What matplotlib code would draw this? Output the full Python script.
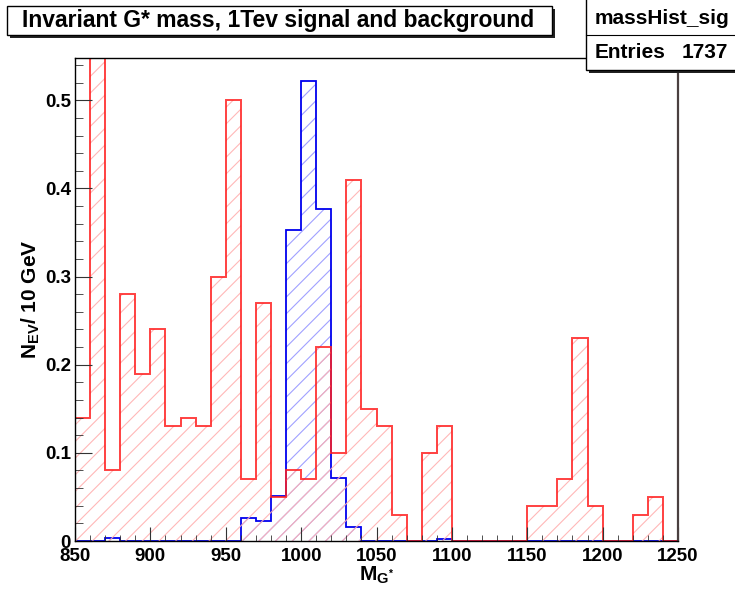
import numpy as np
import matplotlib
matplotlib.use('Agg')
from matplotlib import pyplot as plt
from matplotlib.patches import Rectangle

plt.rcParams['font.family'] = ['Liberation Sans', 'DejaVu Sans']
plt.rcParams['font.weight'] = 'bold'
plt.rcParams['mathtext.fontset'] = 'custom'
plt.rcParams['mathtext.rm'] = 'Liberation Sans:bold'
plt.rcParams['mathtext.bf'] = 'Liberation Sans:bold'
plt.rcParams['mathtext.it'] = 'Liberation Sans:bold'
plt.rcParams['hatch.linewidth'] = 0.8

# 10 GeV bins from 850 to 1250
edges = np.arange(850, 1260, 10)

signal = [0, 0, 0.003, 0, 0, 0, 0, 0, 0, 0,
          0, 0.026, 0.023, 0.051, 0.353, 0.522, 0.377, 0.072, 0.016, 0,
          0, 0, 0, 0, 0.002, 0, 0, 0, 0, 0,
          0, 0, 0, 0, 0, 0, 0, 0, 0, 0]

background = [0.14, 0.70, 0.08, 0.28, 0.19, 0.24, 0.13, 0.14, 0.13, 0.30,
              0.50, 0.07, 0.27, 0.05, 0.08, 0.07, 0.22, 0.10, 0.41, 0.15,
              0.13, 0.03, 0, 0.10, 0.13, 0, 0, 0, 0, 0,
              0.04, 0.04, 0.07, 0.23, 0.04, 0, 0, 0.03, 0.05, 0]

xticks = [850, 900, 950, 1000, 1050, 1100, 1150, 1200, 1250]
yticks = [0, 0.1, 0.2, 0.3, 0.4, 0.5]
ytick_labels = ['0', '0.1', '0.2', '0.3', '0.4', '0.5']

title = 'Invariant G* mass, 1Tev signal and background'
stat_name = 'massHist_sig'
stat_entries = 1737

W, H = 735, 596
fig = plt.figure(figsize=(W / 100, H / 100), dpi=100)
fig.patch.set_facecolor('white')

x0, x1, y0, y1 = 75, 678, 58, 541
ax = fig.add_axes([x0 / W, 1 - y1 / H, (x1 - x0) / W, (y1 - y0) / H])

# signal (blue) first, background (red) on top, a bit transparent
ax.stairs(signal, edges, fill=True, facecolor='none', edgecolor='#a0a0ff',
          hatch='//', linewidth=0, baseline=0)
ax.stairs(signal, edges, color='#0000ee', linewidth=1.3, baseline=0)
ax.stairs(background, edges, fill=True, facecolor='none', edgecolor='#ffb0b0',
          hatch='//', linewidth=0, baseline=0, alpha=0.9)
ax.stairs(background, edges, color='#ff2020', linewidth=1.4, baseline=0,
          alpha=0.85)

ax.set_xlim(850, 1250)
ax.set_ylim(0, 0.548)

ax.set_xticks(xticks)
ax.set_xticks(np.arange(850, 1251, 10), minor=True)
ax.set_yticks(yticks)
ax.set_yticks(np.arange(0, 0.55, 0.02), minor=True)
ax.set_yticklabels(ytick_labels)
ax.tick_params(axis='both', which='both', direction='in', top=False,
               right=False, colors='#333333', labelcolor='black',
               labelsize=13.5)
ax.tick_params(axis='x', which='major', length=10, pad=5)
ax.tick_params(axis='x', which='minor', length=4.5)
ax.tick_params(axis='y', which='major', length=12.5, pad=3)
ax.tick_params(axis='y', which='minor', length=6)

for s in ['left', 'top', 'bottom']:
    ax.spines[s].set_color('black')
    ax.spines[s].set_linewidth(1)
ax.spines['right'].set_color('#4a4040')
ax.spines['right'].set_linewidth(1.6)

ax.set_xlabel(r'$\mathbf{M_{G^{*}}}$', fontsize=15, fontweight='bold')
ax.xaxis.set_label_coords(0.5, -0.05)
ax.set_ylabel(r'$\mathbf{N_{EV}}$/ 10 GeV', fontsize=15, fontweight='bold')
ax.yaxis.set_label_coords(-0.055, 0.5)

# boxes in pixel coordinates
ov = fig.add_axes([0, 0, 1, 1], zorder=10)
ov.set_xlim(0, W)
ov.set_ylim(H, 0)
ov.axis('off')

# title box with shadow
ov.add_patch(Rectangle((10, 9), 545, 29, facecolor='#222222', edgecolor='none'))
ov.add_patch(Rectangle((7, 6), 545, 29, facecolor='white', edgecolor='black',
                       linewidth=1))
ov.text(22, 21, title, fontsize=16.5, fontweight='bold', va='center',
        ha='left')

# stat box with shadow
ov.add_patch(Rectangle((589, -5), 160, 78, facecolor='#222222', edgecolor='none'))
ov.add_patch(Rectangle((586, -8), 160, 78, facecolor='white', edgecolor='black',
                       linewidth=1))
ov.plot([586, 735], [35, 35], color='black', linewidth=0.8)
ov.text(595, 18, stat_name, fontsize=15, fontweight='bold', va='center',
        ha='left')
ov.text(595, 53, 'Entries', fontsize=15, fontweight='bold', va='center',
        ha='left')
ov.text(728, 53, str(stat_entries), fontsize=15, fontweight='bold',
        va='center', ha='right')

fig.savefig('out.png', dpi=100)
